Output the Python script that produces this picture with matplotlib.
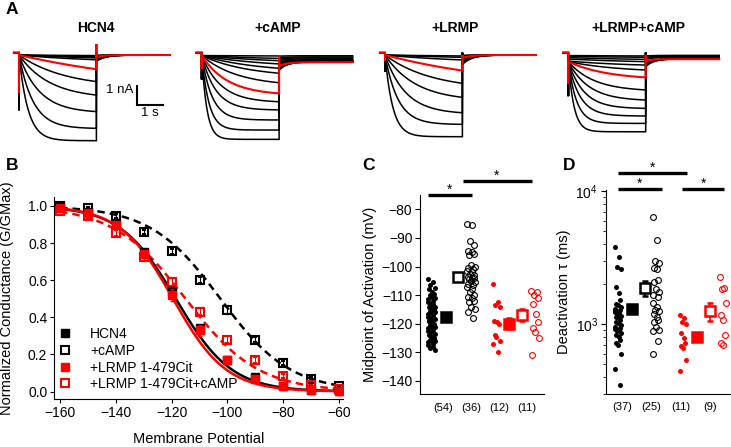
import numpy as np
import matplotlib
matplotlib.use('Agg')
import matplotlib.pyplot as plt
from matplotlib.lines import Line2D

plt.rcParams['font.family'] = ['Liberation Sans', 'DejaVu Sans']
plt.rcParams['mathtext.fontset'] = 'custom'
plt.rcParams['mathtext.rm'] = 'Liberation Sans'

RED = '#ff0000'
W, H = 731, 447
fig = plt.figure(figsize=(W / 100, H / 100), dpi=100)


def box(x0, y0, x1, y1):
    return [x0 / W, 1 - y1 / H, (x1 - x0) / W, (y1 - y0) / H]


# ================= DATA =================
# Panel A: current traces (nA, step-end amplitude), activation tau (s), tail start/end (nA)
a_titles = ['HCN4', '+cAMP', '+LRMP', '+LRMP+cAMP']
hcn4_steps = [0.03, 0.08, 0.15, 0.25, 0.75, 1.40, 2.11, 2.98, 3.86, 4.51]
hcn4_tau = [3.0, 3.0, 3.0, 3.0, 6.0, 1.8, 1.2, 0.8, 0.55, 0.35]
hcn4_tail0 = [0.02, 0.03, 0.05, 0.08, 0.10, 0.18, 0.24, 0.28, 0.31, 0.33]
hcn4_tail1 = [0, 0, 0, 0, 0, 0, 0, 0, 0, 0]
hcn4_red = 4

camp_steps = [0.05, 0.18, 0.30, 0.47, 0.70, 0.96, 1.46, 2.02, 2.46, 2.89, 3.42, 3.95, 4.44]
camp_tau = [3.0, 3.0, 3.0, 2.5, 2.2, 1.8, 1.4, 1.0, 0.75, 0.55, 0.4, 0.28, 0.2]
camp_tail0 = [0.06, 0.15, 0.22, 0.30, 0.38, 0.45, 0.52, 0.58, 0.65, 0.70, 0.75, 0.78, 0.80]
camp_tail1 = [0.04, 0.10, 0.15, 0.20, 0.25, 0.28, 0.32, 0.38, 0.34, 0.35, 0.35, 0.36, 0.36]
camp_red = 7

lrmp_steps = [0.05, 0.12, 0.26, 0.82, 1.49, 2.23, 3.04, 3.65, 4.30]
lrmp_tau = [3.0, 3.0, 3.0, 5.0, 1.8, 1.2, 0.8, 0.5, 0.3]
lrmp_tail0 = [0.02, 0.04, 0.08, 0.15, 0.25, 0.35, 0.42, 0.48, 0.50]
lrmp_tail1 = [0, 0, 0, 0, 0, 0, 0, 0, 0]
lrmp_red = 3

lc_steps = [0.05, 0.12, 0.23, 0.35, 0.53, 0.79, 1.18, 1.84, 2.37, 2.81, 3.21, 3.60, 4.04]
lc_tau = [3.0, 3.0, 3.0, 3.0, 2.5, 2.0, 1.5, 1.0, 0.8, 0.6, 0.45, 0.32, 0.22]
lc_tail0 = [0.05, 0.08, 0.10, 0.13, 0.17, 0.22, 0.30, 0.40, 0.45, 0.50, 0.55, 0.60, 0.62]
lc_tail1 = [0.02, 0.04, 0.06, 0.08, 0.10, 0.13, 0.22, 0.20, 0.20, 0.20, 0.20, 0.20, 0.20]
lc_red = 6

# capacitive spikes (black, red) and instantaneous current per panel (nA)
a_spike_black = [2.9, 1.28, 0.88, 2.16]
a_spike_red = [2.0, 0.74, 0.30, 1.50]
a_end_spike_black = [0.10, 0.0, 0.12, 0.12]
a_end_spike_red = [0.58, 0.0, 0.0, 0.0]
a_inst = [0.0, 0.03, 0.0, 0.35]
a_tail_tau = [0.35, 0.3, 0.35, 0.3]

# Panel B: conductance-voltage
b_volt = [-160, -150, -140, -130, -120, -110, -100, -90, -80, -70, -60]
b_hcn4 = [1.00, 0.97, 0.91, 0.75, 0.54, 0.34, 0.17, 0.08, 0.03, 0.01, 0.005]
b_hcn4_err = [0.005, 0.005, 0.01, 0.015, 0.02, 0.02, 0.015, 0.01, 0.008, 0.005, 0.005]
b_camp = [1.00, 0.99, 0.945, 0.86, 0.755, 0.60, 0.44, 0.28, 0.155, 0.07, 0.03]
b_camp_err = [0.005, 0.005, 0.01, 0.01, 0.015, 0.015, 0.02, 0.015, 0.01, 0.008, 0.005]
b_lrmp = [0.99, 0.96, 0.90, 0.74, 0.52, 0.33, 0.17, 0.07, 0.03, 0.01, 0.005]
b_lrmp_err = [0.01, 0.01, 0.015, 0.02, 0.03, 0.03, 0.02, 0.015, 0.01, 0.005, 0.005]
b_lc = [0.975, 0.945, 0.855, 0.725, 0.59, 0.43, 0.28, 0.17, 0.085, 0.035, 0.015]
b_lc_err = [0.01, 0.01, 0.015, 0.02, 0.02, 0.02, 0.02, 0.015, 0.01, 0.008, 0.005]
# Boltzmann fit parameters (V1/2, slope)
b_fit_hcn4 = (-118.5, 10.0)
b_fit_camp = (-102.5, 12.5)
b_fit_lrmp = (-119.5, 9.5)
b_fit_lc = (-115.0, 13.0)
b_labels = ['HCN4', '+cAMP', '+LRMP 1-479Cit', '+LRMP 1-479Cit+cAMP']

# Panel C: midpoints of activation (mV)
c_hcn4 = [-104.5, -105.5, -106.5, -107.5, -108, -109, -109.5, -110, -110.5, -111,
          -111.5, -112, -112.5, -113, -113.5, -114, -114, -114.5, -115, -115.5,
          -116, -116, -116.5, -117, -117.5, -118, -118, -118.5, -119, -119.5,
          -120, -120.5, -121, -121, -121.5, -122, -122.5, -123, -123, -123.5,
          -124, -124.5, -125, -125.5, -126, -126, -126.5, -127, -127.5, -128,
          -128.5, -129, -119, -113]
c_camp = [-85, -85.5, -91, -92.5, -94.5, -95, -95.5, -96, -99.5, -100,
          -100.5, -101, -101.5, -102, -102.5, -103, -103.5, -104, -104, -104.5,
          -105, -105.5, -106, -106.5, -107, -108, -109, -110, -110.5, -111,
          -112, -112.5, -114, -115, -116, -118]
c_lrmp = [-106, -112.5, -113.5, -114, -119, -119.5, -120, -124, -124.5, -126, -127, -130]
c_lc = [-108.5, -109, -110, -111, -113, -116.5, -119.5, -121.5, -123, -125, -131]
c_means = [-117.8, -103.5, -120.0, -117.0]
c_sems = [0.8, 1.1, 2.0, 2.0]
c_counts = ['(54)', '(36)', '(12)', '(11)']

# Panel D: deactivation tau (ms)
d_hcn4 = [3800, 3200, 2700, 2600, 1900, 1700, 1520, 1420, 1400, 1350,
          1300, 1270, 1240, 1200, 1180, 1150, 1130, 1100, 1070, 1040,
          1010, 980, 950, 930, 910, 900, 880, 860, 830, 800,
          760, 720, 700, 590, 460, 345, 1250]
d_camp = [6400, 4300, 3000, 2900, 2650, 2600, 2150, 2080, 1820, 1750,
          1650, 1600, 1450, 1350, 1280, 1250, 1180, 1130, 1070, 1040,
          950, 900, 880, 740, 590]
d_lrmp = [1170, 1100, 1030, 1000, 850, 780, 720, 680, 660, 540, 440]
d_lc = [2250, 1880, 1840, 1450, 1170, 1070, 830, 720, 690]
d_means = [1300, 1850, 800, 1250]
d_sems = [90, 240, 60, 190]
d_counts = ['(37)', '(25)', '(11)', '(9)']

# ================= PANEL A =================
PX_S, PX_NA = 25.8, 19.0
T_STEP, T_TAIL, T_PRE, I_PRE = 3.0, 2.85, 0.2, 0.12
a_starts = [19, 201.7, 385, 568.3]
a_title_x = [95.5, 278, 455.5, 638]
panels = [
    (hcn4_steps, hcn4_tau, hcn4_tail0, hcn4_tail1, hcn4_red),
    (camp_steps, camp_tau, camp_tail0, camp_tail1, camp_red),
    (lrmp_steps, lrmp_tau, lrmp_tail0, lrmp_tail1, lrmp_red),
    (lc_steps, lc_tau, lc_tail0, lc_tail1, lc_red),
]
BASE_Y, TOP_Y, BOT_Y = 55, 36, 150
a_axes = []
for p, (steps, taus, tail0, tail1, red) in enumerate(panels):
    sx = a_starts[p]
    ax = fig.add_axes(box(sx - 10, TOP_Y, sx + 160, BOT_Y))
    ax.set_xlim(-10 / PX_S, 160 / PX_S)
    ax.set_ylim(-(BOT_Y - BASE_Y) / PX_NA, (BASE_Y - TOP_Y) / PX_NA)
    ax.axis('off')
    a_axes.append(ax)
    order = [i for i in range(len(steps)) if i != red] + [red]
    for i in order:
        is_red = i == red
        col = RED if is_red else 'black'
        spike = a_spike_red[p] if is_red else a_spike_black[p]
        end_sp = a_end_spike_red[p] if is_red else a_end_spike_black[p]
        inst = min(a_inst[p], 0.6 * steps[i])
        t1 = np.linspace(0, T_STEP, 200)
        frac = (1 - np.exp(-t1 / taus[i])) / (1 - np.exp(-T_STEP / taus[i]))
        i1 = -(inst + (steps[i] - inst) * frac)
        t2 = np.linspace(0, T_TAIL, 200)
        i2 = -(tail1[i] + (tail0[i] - tail1[i]) * np.exp(-t2 / a_tail_tau[p]))
        xs = np.concatenate([[-T_PRE, 0, 0, 0], t1, [T_STEP, T_STEP], T_STEP + t2])
        ys = np.concatenate([[I_PRE, I_PRE, -spike, -inst], i1, [end_sp, i2[0]], i2])
        ax.plot(xs, ys, color=col, lw=1.5 if is_red else 1.1,
                zorder=3 if is_red else 2, solid_joinstyle='miter')
    fig.text(a_title_x[p] / W, 1 - 28 / H, a_titles[p], ha='center', va='center',
             fontsize=10, fontweight='bold')

# scale bar on HCN4 panel
axs = a_axes[0]
bx = (137.3 - a_starts[0]) / PX_S
by = -(105 - BASE_Y) / PX_NA
axs.plot([bx, bx, bx + 1.0], [by + 1.0, by, by], color='black', lw=1.5,
         solid_joinstyle='miter')
axs.text(bx - 0.17, by + 0.8, '1 nA', ha='right', va='center', fontsize=9.5)
axs.text(bx + 0.5, by - 0.12, '1 s', ha='center', va='top', fontsize=9.5)

# panel letters
for letter, (lx, ly) in zip('ABCD', [(6, 10), (6, 165), (362, 166), (563, 166)]):
    fig.text(lx / W, 1 - ly / H, letter, ha='left', va='center', fontsize=12.5,
             fontweight='bold')

# ================= PANEL B =================
axb = fig.add_axes(box(54.3, 197, 343, 399))
b_y0, b_y1 = 391.5, 206.0
pxu = b_y0 - b_y1
axb.set_ylim(-(399 - b_y0) / pxu, 1 + (b_y1 - 197) / pxu)
b_px_mv = (339 - 60) / 100.0
axb.set_xlim(-160 - (60 - 54.3) / b_px_mv, -60 + (343 - 339) / b_px_mv)
for s in ['top', 'right']:
    axb.spines[s].set_visible(False)
axb.set_xticks([-160, -140, -120, -100, -80, -60])
axb.set_yticks([0.0, 0.2, 0.4, 0.6, 0.8, 1.0])
axb.set_yticklabels(['0.0', '0.2', '0.4', '0.6', '0.8', '1.0'])
axb.tick_params(direction='out', length=3, width=0.8, labelsize=10, pad=2)
axb.set_xlabel('Membrane Potential', fontsize=10.5, labelpad=9)
axb.set_ylabel('Normalized Conductance (G/GMax)', fontsize=10.5)
axb.yaxis.set_label_coords((14 - 54.3) / (343 - 54.3), 0.5)

vv = np.linspace(-160, -60, 300)


def boltz(v, p):
    return 1.0 / (1.0 + np.exp((v - p[0]) / p[1]))


axb.plot(vv, boltz(vv, b_fit_camp), color='black', lw=1.8, ls=(0, (3, 2)), zorder=2)
axb.plot(vv, boltz(vv, b_fit_lc), color=RED, lw=1.8, ls=(0, (3, 2)), zorder=2)
axb.plot(vv, boltz(vv, b_fit_hcn4), color='black', lw=1.8, zorder=2)
axb.plot(vv, boltz(vv, b_fit_lrmp), color=RED, lw=1.8, zorder=2)

MS = 6.2
axb.errorbar(b_volt, b_camp, yerr=b_camp_err, fmt='s', ms=MS, mfc='none', mec='black',
             mew=1.5, ecolor='black', elinewidth=0.8, capsize=1.5, zorder=3)
axb.errorbar(b_volt, b_lc, yerr=b_lc_err, fmt='s', ms=MS, mfc='none', mec=RED,
             mew=1.5, ecolor=RED, elinewidth=0.8, capsize=1.5, zorder=3)
axb.errorbar(b_volt, b_hcn4, yerr=b_hcn4_err, fmt='s', ms=MS, mfc='black', mec='black',
             ecolor='black', elinewidth=0.8, capsize=1.5, zorder=4)
axb.errorbar(b_volt, b_lrmp, yerr=b_lrmp_err, fmt='s', ms=MS, mfc=RED, mec=RED,
             ecolor=RED, elinewidth=0.8, capsize=1.5, zorder=5)

handles = [
    Line2D([], [], ls='none', marker='s', ms=MS, mfc='black', mec='black'),
    Line2D([], [], ls='none', marker='s', ms=MS, mfc='none', mec='black', mew=1.5),
    Line2D([], [], ls='none', marker='s', ms=MS, mfc=RED, mec=RED),
    Line2D([], [], ls='none', marker='s', ms=MS, mfc='none', mec=RED, mew=1.5),
]
fig.legend(handles, b_labels, loc='upper left', bbox_to_anchor=(58 / W, 1 - 327 / H),
           frameon=False, fontsize=10, handlelength=1.0, handletextpad=1.3,
           labelspacing=0.2, borderpad=0, borderaxespad=0)

# ================= PANEL C =================
axc = fig.add_axes(box(420, 195, 544, 394.3))
c_px = 28.0
c_pmv = (381 - 209.3) / 60.0
axc.set_xlim(-(443 - 420) / c_px, (544 - 443) / c_px)
axc.set_ylim(-140 - (394.3 - 381) / c_pmv, -80 + (209.3 - 195) / c_pmv)
for s in ['top', 'right']:
    axc.spines[s].set_visible(False)
axc.set_yticks([-140, -130, -120, -110, -100, -90, -80])
axc.set_xticks([0, 1, 2, 3])
axc.set_xticklabels(c_counts, fontsize=8)
axc.tick_params(axis='x', length=0, pad=6)
axc.tick_params(axis='y', direction='out', length=3.5, width=0.8, labelsize=10, pad=2)
axc.set_ylabel('Midpoint of Activation (mV)', fontsize=10.5, labelpad=3)

c_scatter_off = [-0.41, 0.0, -0.09, 0.29]
c_mean_off = [0.11, -0.475, 0.36, -0.18]
jit = np.array([-1.0, 0.4, -0.3, 0.9, -0.7, 0.2, 0.7, -0.5, 0.0, 1.0, -0.9, 0.5])


def jitter(n, spread):
    return np.resize(jit, n) * spread


groups_c = [c_hcn4, c_camp, c_lrmp, c_lc]
styles = [('black', True), ('black', False), (RED, True), (RED, False)]
for g, vals in enumerate(groups_c):
    col, filled = styles[g]
    xs = g + c_scatter_off[g] + jitter(len(vals), 0.13)
    if filled:
        axc.plot(xs, vals, 'o', ms=3.6, mfc=col, mec=col, mew=0, clip_on=False)
    else:
        axc.plot(xs, vals, 'o', ms=4.2, mfc='none', mec=col, mew=0.8, clip_on=False)
    axc.errorbar(g + c_mean_off[g], c_means[g], yerr=c_sems[g], fmt='s', ms=7.5,
                 mfc=col if filled else 'white', mec=col, mew=1.8, ecolor=col,
                 elinewidth=1.2, capsize=2.5, zorder=4)

c_bars = [((-0.536, 1.036), -75.0, 0.25), ((0.714, 3.18), -70.2, 1.92)]
for (x0, x1), yb, xs_ in c_bars:
    axc.plot([x0, x1], [yb, yb], color='black', lw=2.4, solid_capstyle='butt', clip_on=False)
    axc.annotate('*', (xs_, yb), xytext=(0, 1.0), textcoords='offset points',
                 ha='center', va='baseline', fontsize=10, annotation_clip=False)

# ================= PANEL D =================
axd = fig.add_axes(box(605.7, 190, 730, 393.7))
d_px = 29.3
d_dec = 133.0
axd.set_xlim(-(622 - 605.7) / d_px, (730 - 622) / d_px)
axd.set_yscale('log')
axd.set_ylim(10 ** (3 - (393.7 - 324) / d_dec), 10 ** (4 + (191 - 190) / d_dec))
for s in ['top', 'right']:
    axd.spines[s].set_visible(False)
axd.set_yticks([1000, 10000])
axd.set_yticklabels([r'$\mathregular{10^{3}}$', r'$\mathregular{10^{4}}$'])
axd.set_xticks([0, 1, 2, 3])
axd.set_xticklabels(d_counts, fontsize=8)
axd.tick_params(axis='x', length=0, pad=6)
axd.tick_params(axis='y', which='major', direction='out', length=3.5, width=0.8,
                labelsize=10, pad=2)
axd.tick_params(axis='y', which='minor', direction='out', length=2.2, width=0.6)
axd.set_ylabel('Deactivation \u03c4 (ms)', fontsize=10.5, labelpad=3)

d_scatter_off = [-0.14, 0.16, 0.08, 0.44]
d_mean_off = [0.33, -0.22, 0.55, 0.02]
groups_d = [d_hcn4, d_camp, d_lrmp, d_lc]
for g, vals in enumerate(groups_d):
    col, filled = styles[g]
    xs = g + d_scatter_off[g] + jitter(len(vals), 0.11)
    if filled:
        axd.plot(xs, vals, 'o', ms=3.6, mfc=col, mec=col, mew=0, clip_on=False)
    else:
        axd.plot(xs, vals, 'o', ms=4.2, mfc='none', mec=col, mew=0.8, clip_on=False)
    axd.errorbar(g + d_mean_off[g], d_means[g], yerr=d_sems[g], fmt='s', ms=7.5,
                 mfc=col if filled else 'white', mec=col, mew=1.8, ecolor=col,
                 elinewidth=1.2, capsize=2.5, zorder=4)

d_bars = [((-0.137, 2.22), 10 ** 4.133, 1.05), ((-0.137, 1.365), 10 ** 4.013, 0.61),
          ((2.04, 3.48), 10 ** 4.013, 2.77)]
for (x0, x1), yb, xs_ in d_bars:
    axd.plot([x0, x1], [yb, yb], color='black', lw=2.4, solid_capstyle='butt', clip_on=False)
    axd.annotate('*', (xs_, yb), xytext=(0, 1.0), textcoords='offset points',
                 ha='center', va='baseline', fontsize=10, annotation_clip=False)

fig.savefig('out.png', dpi=100)
